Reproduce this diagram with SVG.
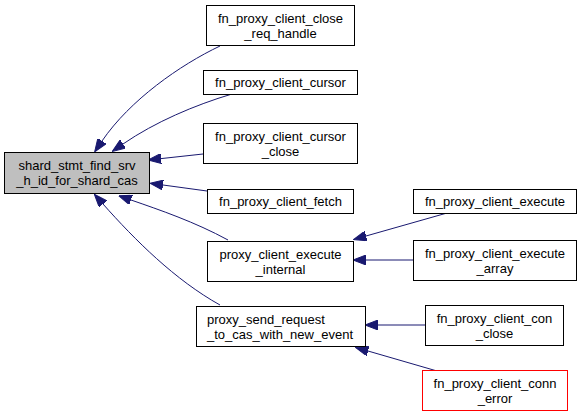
<svg xmlns="http://www.w3.org/2000/svg" width="581" height="417" viewBox="0 0 581 417">
<style>
.n rect{fill:#ffffff;stroke:#000000;stroke-width:1}
.n text{font-family:"Liberation Sans",Arial,sans-serif;font-size:13px;fill:#000000;text-anchor:middle}
.e path{fill:none;stroke:#191970;stroke-width:1}
</style>
<defs>
<marker id="ah" viewBox="0 0 13 10" refX="0" refY="5" markerWidth="13" markerHeight="10" markerUnits="userSpaceOnUse" orient="auto">
<path d="M0,0 L13,5 L0,10 z" fill="#191970" stroke="#191970"/>
</marker>
</defs>
<rect width="581" height="417" fill="#ffffff"/>
<g class="e">
<path d="M220,46 C180,65 130,100 102,141" marker-end="url(#ah)"/>
<path d="M232,94 C195,105 155,122 123,144" marker-end="url(#ah)"/>
<path d="M203,154 L161,158.6" marker-end="url(#ah)"/>
<path d="M207,191 L163,185" marker-end="url(#ah)"/>
<path d="M228,240 C195,222 160,210 131,200" marker-end="url(#ah)"/>
<path d="M220,305 C175,280 135,240 103,204" marker-end="url(#ah)"/>
<path d="M447,213 L366,236" marker-end="url(#ah)"/>
<path d="M413,260 L366,260" marker-end="url(#ah)"/>
<path d="M425,325 L378,325" marker-end="url(#ah)"/>
<path d="M437,371 L368,351" marker-end="url(#ah)"/>
</g>
<g id="main" class="n"><rect x="4.5" y="152.5" width="145" height="41" style="fill:#bfbfbf"/><text x="77" y="170">shard_stmt_find_srv</text><text x="77" y="185">_h_id_for_shard_cas</text></g>
<g id="n1" class="n"><rect x="206.5" y="5.5" width="148" height="40"/><text x="280.5" y="23">fn_proxy_client_close</text><text x="280.5" y="38">_req_handle</text></g>
<g id="n2" class="n"><rect x="203.5" y="70.5" width="154" height="24"/><text x="280.5" y="87">fn_proxy_client_cursor</text></g>
<g id="n3" class="n"><rect x="203.5" y="123.5" width="154" height="40"/><text x="280.5" y="141">fn_proxy_client_cursor</text><text x="280.5" y="156">_close</text></g>
<g id="n4" class="n"><rect x="207.5" y="189.5" width="146" height="24"/><text x="280.5" y="206">fn_proxy_client_fetch</text></g>
<g id="n5" class="n"><rect x="207.5" y="241.5" width="146" height="40"/><text x="280.5" y="259">proxy_client_execute</text><text x="280.5" y="274">_internal</text></g>
<g id="n6" class="n"><rect x="196.5" y="306.5" width="169" height="40"/><text x="207" y="324" style="text-anchor:start">proxy_send_request</text><text x="207" y="339" style="text-anchor:start">_to_cas_with_new_event</text></g>
<g id="n7" class="n"><rect x="413.5" y="189.5" width="163" height="24"/><text x="495" y="206">fn_proxy_client_execute</text></g>
<g id="n8" class="n"><rect x="413.5" y="240.5" width="163" height="40"/><text x="495" y="258">fn_proxy_client_execute</text><text x="495" y="273">_array</text></g>
<g id="n9" class="n"><rect x="425.5" y="305.5" width="138" height="40"/><text x="494.5" y="323">fn_proxy_client_con</text><text x="494.5" y="338">_close</text></g>
<g id="n10" class="n"><rect x="422.5" y="370.5" width="145" height="40" style="stroke:#ff0000"/><text x="495" y="388">fn_proxy_client_conn</text><text x="495" y="403">_error</text></g>
</svg>
